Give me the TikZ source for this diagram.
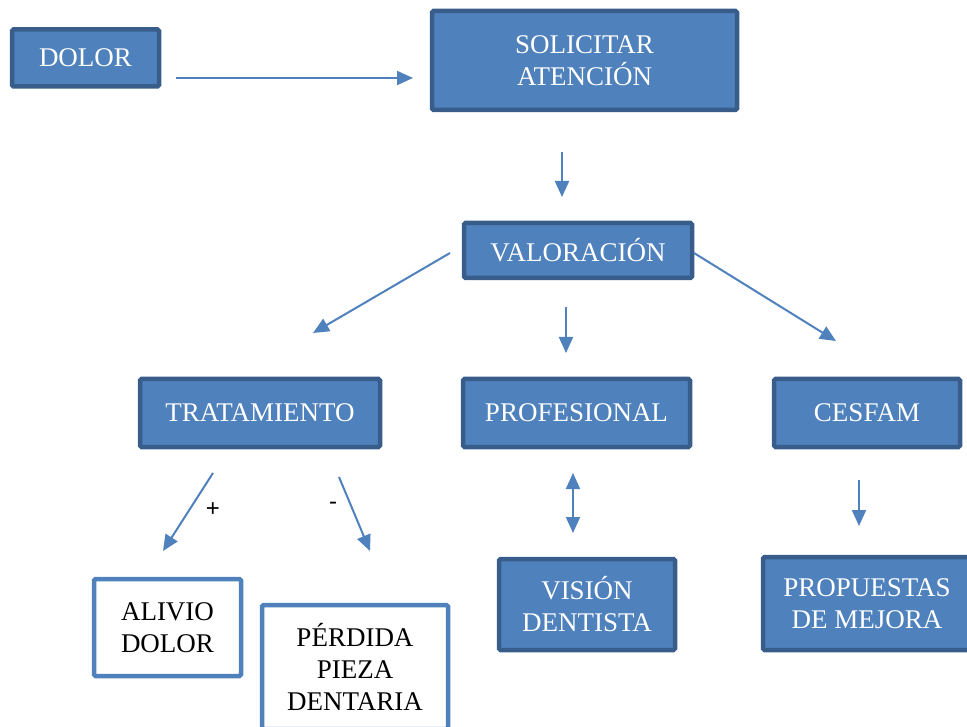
\documentclass[tikz,border=0pt]{standalone}
\usepackage{fontspec}
\setmainfont{Liberation Serif}
\newfontfamily\signfont{Liberation Sans}
\usetikzlibrary{arrows.meta}
\definecolor{boxfill}{HTML}{4F81BD}
\definecolor{boxedge}{HTML}{385D8A}
\tikzset{
  bluebox/.style={draw=boxedge, fill=boxfill, line width=4.5pt, rounded corners=1.5pt,
    text=white, align=center, inner sep=0pt, font=\fontsize{27}{32}\selectfont},
  whitebox/.style={draw=boxfill, fill=white, line width=4.5pt, rounded corners=1.5pt,
    text=black, align=center, inner sep=0pt, font=\fontsize{27}{32}\selectfont},
  conn/.style={draw=boxfill, line width=2pt, -{Triangle[length=16pt,width=14pt]}},
  conn2/.style={draw=boxfill, line width=2pt, {Triangle[length=16pt,width=14pt]}-{Triangle[length=16pt,width=14pt]}},
  sign/.style={font=\signfont\fontsize{24}{28}\selectfont, text=black, inner sep=0pt}
}
\begin{document}
\begin{tikzpicture}[x=1pt,y=-1pt]
\useasboundingbox (0,0) rectangle (967,727);
\begin{scope}
\clip (0,0) rectangle (967,727);
\node[bluebox, minimum width=147pt, minimum height=57pt] (dolor) at (85.5,58) {DOLOR};
\node[bluebox, minimum width=305pt, minimum height=99pt] (sol) at (584.5,60.5) {SOLICITAR\\ATENCIÓN};
\node[bluebox, minimum width=228pt, minimum height=55pt] (val) at (578,250.5) {VALORACIÓN};
\node[bluebox, minimum width=240pt, minimum height=68pt] (trat) at (260,413) {TRATAMIENTO};
\node[bluebox, minimum width=227pt, minimum height=68pt] (prof) at (576.5,413) {PROFESIONAL};
\node[bluebox, minimum width=186pt, minimum height=68pt] (cesfam) at (867,413) {CESFAM};
\node[whitebox, minimum width=147pt, minimum height=97pt] (alivio) at (167.5,627.5) {ALIVIO\\DOLOR};
\node[whitebox, minimum width=186pt, minimum height=124pt] (perdida) at (355,667) {PÉRDIDA\\PIEZA\\DENTARIA};
\node[bluebox, minimum width=176pt, minimum height=91pt] (vision) at (587,604.5) {VISIÓN\\DENTISTA};
\node[bluebox, minimum width=208pt, minimum height=93pt] (prop) at (867,603.5) {PROPUESTAS\\DE MEJORA};
\end{scope}
% connector end points
\coordinate (a1) at (176,78);  \coordinate (a2) at (413,78);
\coordinate (b1) at (562,152); \coordinate (b2) at (562,197);
\coordinate (c1) at (450,253); \coordinate (c2) at (313,333);
\coordinate (d1) at (566,307); \coordinate (d2) at (566,353);
\coordinate (e1) at (694,253); \coordinate (e2) at (836,341);
\coordinate (f1) at (213,473); \coordinate (f2) at (163,551);
\coordinate (g1) at (339,477); \coordinate (g2) at (370,551);
\coordinate (h1) at (573,473); \coordinate (h2) at (573,533);
\coordinate (i1) at (859,480); \coordinate (i2) at (859,526);
\draw[conn] (a1) -- (a2);
\draw[conn] (b1) -- (b2);
\draw[conn] (c1) -- (c2);
\draw[conn] (d1) -- (d2);
\draw[conn] (e1) -- (e2);
\draw[conn] (f1) -- (f2);
\draw[conn] (g1) -- (g2);
\draw[conn2] (h1) -- (h2);
\draw[conn] (i1) -- (i2);
\node[sign] (plus) at (213,510) {+};
\node[sign] (minus) at (333,506) {-};
\end{tikzpicture}
\end{document}
